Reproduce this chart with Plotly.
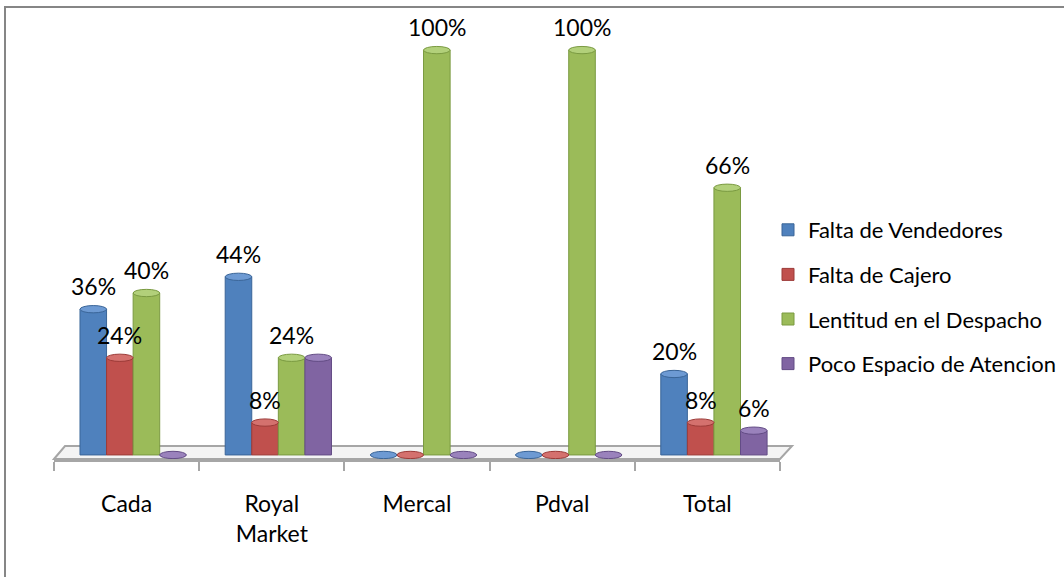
import plotly.graph_objects as go

# Survey results: main complaints per store (percent of respondents)
categories = ["Cada", "Royal<br>Market", "Mercal", "Pdval", "Total"]
series_names = [
    "Falta de Vendedores",
    "Falta de Cajero",
    "Lentitud en el Despacho",
    "Poco Espacio de Atencion",
]
falta_vendedores = [36, 44, 0, 0, 20]
falta_cajero = [24, 8, 0, 0, 8]
lentitud_despacho = [40, 24, 100, 100, 66]
poco_espacio = [0, 24, 0, 0, 6]
series_values = [falta_vendedores, falta_cajero, lentitud_despacho, poco_espacio]

# labels that Excel hid because they overlap a neighbour
hidden_labels = {(3, 1)}

colors = ["#4F81BD", "#C0504D", "#9BBB59", "#8064A2"]
cap_colors = ["#6D9AD3", "#D4716E", "#B2D07A", "#9A82BC"]
edge_colors = ["#3A6598", "#9C3B38", "#7A9A41", "#634C85"]

FONT = "Lato"
BAR_W = 0.183
DEPTH_SHIFT = 0.045  # small sideways shift of the 3-D bars
Y_MIN, Y_MAX = -1, 102

# plot area geometry in pixels, used for the frame/floor shapes drawn in paper units
L, R, T, B = 54, 284, 42, 118
W, H = 1064, 577
PW, PH = W - L - R, H - T - B


def px_to_paper(px, py):
    return (px - L) / PW, (H - B - py) / PH


fig = go.Figure()
annotations = []
shapes = []

for j, (name, vals) in enumerate(zip(series_names, series_values)):
    xs = [i + DEPTH_SHIFT + (j - 1.5) * BAR_W for i in range(len(vals))]
    fig.add_trace(go.Bar(
        x=xs, y=vals, name=name, width=BAR_W,
        marker=dict(color=colors[j], line=dict(color=edge_colors[j], width=1)),
        legendgroup=name,
        hoverinfo="skip",
    ))
    for i, (x, v) in enumerate(zip(xs, vals)):
        # cylinder top cap (flat disc for zero values)
        shapes.append(dict(
            type="circle", xref="x", yref="y",
            x0=x - BAR_W / 2, x1=x + BAR_W / 2, y0=v - 0.9, y1=v + 0.9,
            fillcolor=cap_colors[j], line=dict(color=edge_colors[j], width=1),
            layer="above",
        ))
        if v > 0 and (j, i) not in hidden_labels:
            annotations.append(dict(
                x=x, y=v, xref="x", yref="y", text=f"{v}%",
                showarrow=False, yanchor="bottom", yshift=7,
                font=dict(family=FONT, size=23, color="#000000"),
            ))

# floor slab
fl = px_to_paper(54, 459)
bl = px_to_paper(65, 446)
br = px_to_paper(792, 446)
fr = px_to_paper(780, 459)
shapes.append(dict(
    type="path", xref="paper", yref="paper",
    path=f"M {fl[0]},{fl[1]} L {bl[0]},{bl[1]} L {br[0]},{br[1]} L {fr[0]},{fr[1]} Z",
    fillcolor="#f4f4f4", line=dict(color="#a6a6a6", width=2), layer="below",
))

# outer chart frame
f0 = px_to_paper(5, 585)
f1 = px_to_paper(1070, 7)
shapes.append(dict(
    type="rect", xref="paper", yref="paper",
    x0=f0[0], y0=f0[1], x1=f1[0], y1=f1[1],
    line=dict(color="#868686", width=2), fillcolor="rgba(0,0,0,0)", layer="below",
))

fig.update_layout(
    width=W, height=H,
    margin=dict(l=L, r=R, t=T, b=B, autoexpand=False),
    paper_bgcolor="white", plot_bgcolor="white",
    barmode="overlay",
    showlegend=True,
    legend=dict(
        x=px_to_paper(768, 0)[0], y=px_to_paper(0, 209)[1],
        xanchor="left", yanchor="top",
        font=dict(family=FONT, size=22, color="#000000"),
        tracegroupgap=13, bgcolor="rgba(0,0,0,0)",
    ),
    annotations=annotations,
    shapes=shapes,
    xaxis=dict(
        range=[-0.5, len(categories) - 0.5],
        tickmode="array", tickvals=list(range(len(categories))), ticktext=categories,
        ticks="", ticklabelstandoff=22,
        tickfont=dict(family=FONT, size=23, color="#000000"),
        showgrid=False, zeroline=False,
        showline=True, linecolor="#a6a6a6", linewidth=3,
        minor=dict(
            tickmode="array",
            tickvals=[i - 0.5 for i in range(len(categories) + 1)],
            ticks="outside", ticklen=9, tickwidth=2, tickcolor="#a6a6a6",
            showgrid=False,
        ),
        fixedrange=True,
    ),
    yaxis=dict(
        range=[Y_MIN, Y_MAX], visible=False, fixedrange=True,
    ),
)

fig.write_html("out.html")
